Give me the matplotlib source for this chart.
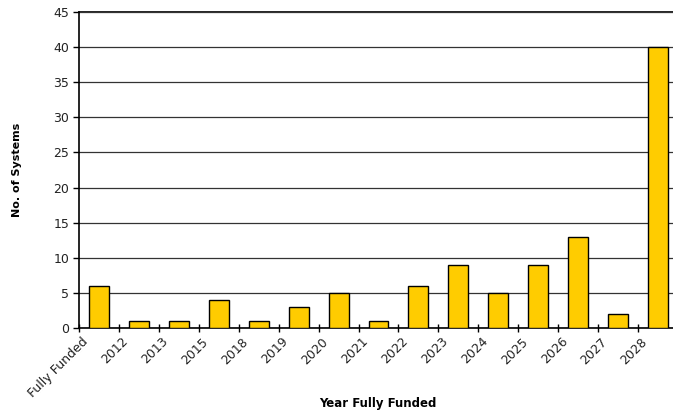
import numpy as np
import matplotlib.pyplot as plt
from matplotlib.transforms import ScaledTranslation

categories = ['Fully Funded', '2012', '2013', '2015', '2018', '2019', '2020',
              '2021', '2022', '2023', '2024', '2025', '2026', '2027', '2028']
systems = [6, 1, 1, 4, 1, 3, 5, 1, 6, 9, 5, 9, 13, 2, 40]

fig = plt.figure(figsize=(6.73, 4.11), dpi=100)
# plot area runs slightly past the right edge of the canvas
ax = fig.add_axes([79 / 673, 1 - 328 / 411, 599 / 673, 316 / 411])

x = np.arange(len(categories))
ax.bar(x, systems, width=0.5, color='#FFCC00', edgecolor='black',
       linewidth=1.0, zorder=3)

ax.set_xlim(-0.5, len(categories) - 0.5)
ax.set_ylim(0, 45)
ax.set_yticks(np.arange(0, 46, 5))
ax.yaxis.grid(True, color='#333333', linewidth=0.9, zorder=0)
ax.axhline(45, color='black', linewidth=1.2, zorder=1, clip_on=False)

# ticks sit between categories, labels under each category
ax.set_xticks(np.arange(-0.5, len(categories), 1.0))
ax.set_xticklabels([])
ax.tick_params(axis='x', direction='inout', length=6, width=1)
ax.tick_params(axis='y', direction='out', length=4, width=1, labelsize=9,
               pad=3, labelcolor='#222222')
offset = ScaledTranslation(-8 / 100, -7 / 100, fig.dpi_scale_trans)
for xi, lab in zip(x, categories):
    ax.text(xi, 0, lab, rotation=45, ha='right', va='top', color='#222222',
            fontsize=9, transform=ax.get_xaxis_transform() + offset)

for side in ('top', 'right'):
    ax.spines[side].set_visible(False)
ax.spines['left'].set_linewidth(1.2)
ax.spines['bottom'].set_linewidth(1.2)

fig.text(378 / 673, 1 - 403 / 411, 'Year Fully Funded', ha='center',
         va='center', fontsize=8.5, fontweight='bold')
fig.text(17 / 673, 1 - 170 / 411, 'No. of Systems', ha='center',
         va='center', rotation=90, fontsize=8, fontweight='bold')

fig.savefig('out.png', dpi=100)
